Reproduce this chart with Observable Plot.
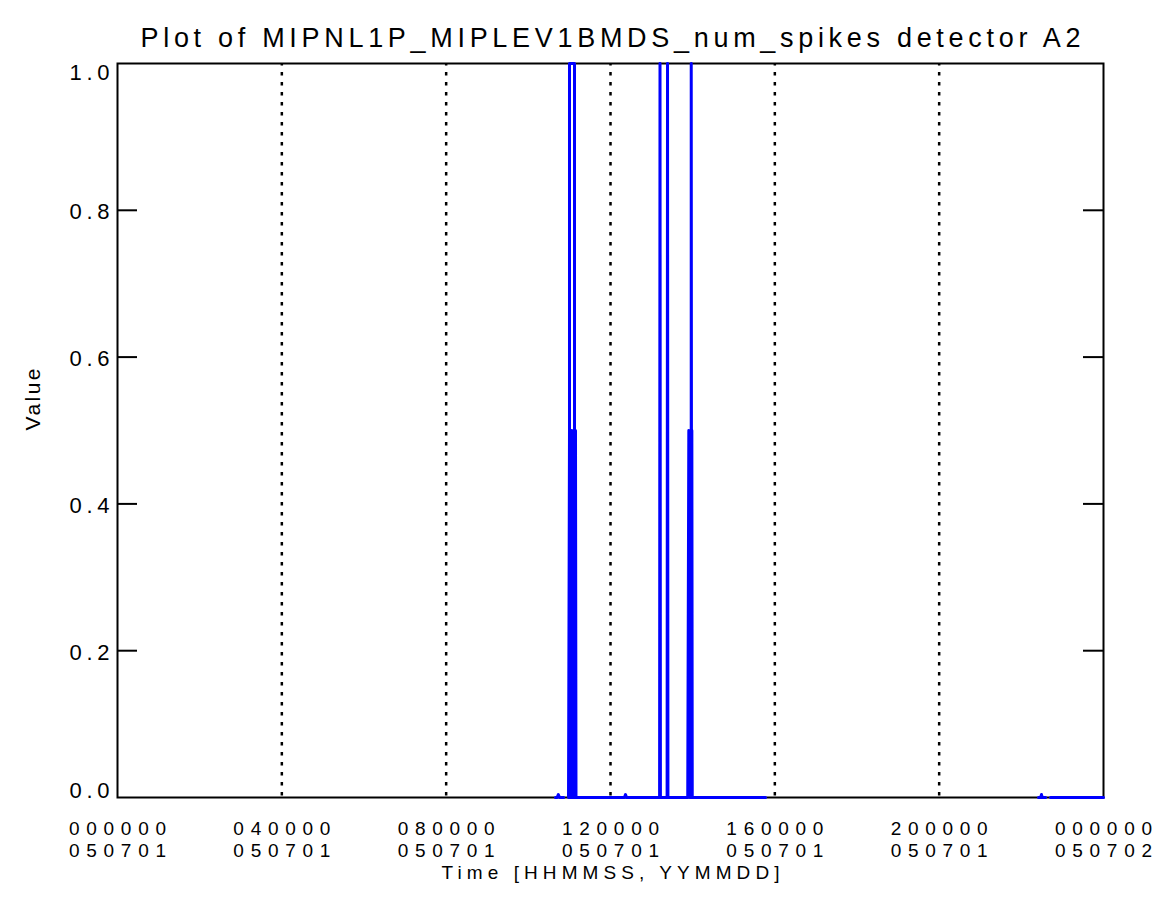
<!DOCTYPE html>
<html><head><meta charset="utf-8">
<script src="https://cdn.jsdelivr.net/npm/d3@7"></script>
<script src="https://cdn.jsdelivr.net/npm/@observablehq/plot@0.6"></script>
<style>
html,body{margin:0;padding:0;background:#fff;}
</style></head><body><div id="chart"></div>
<script>
const titleText = "Plot of MIPNL1P_MIPLEV1BMDS_num_spikes detector A2";
const xLabel = "Time [HHMMSS, YYMMDD]";
const yLabel = "Value";
const xTickHours = [0, 4, 8, 12, 16, 20, 24];
const xTickTime = ["000000", "040000", "080000", "120000", "160000", "200000", "000000"];
const xTickDate = ["050701", "050701", "050701", "050701", "050701", "050701", "050702"];
const gridHours = [4, 8, 12, 16, 20];
const yTicks = [0, 0.2, 0.4, 0.6, 0.8, 1.0];
const yInnerTicks = [0.2, 0.4, 0.6, 0.8];

// samples in drawing order (hours since 000000 050701, value); null = no data
const timeHours = [
  10.66, 10.70, 10.73, 10.76, 10.86, 10.90,
  10.978, 11.002, 11.027, 11.051, 11.075, 11.100, 11.124, 11.148, 11.160,
  11.002, 11.002, 11.124, 11.124, 11.160,
  12.34, 12.365, 12.39,
  13.195, 13.205, 13.215,
  13.378, 13.388, 13.398,
  13.88, 13.906, 13.93, 13.955, 13.965, 13.965, 13.975, 13.98, 13.99,
  15.773, 15.80,
  22.418, 22.47, 22.49, 22.51, 22.59, 22.65,
  22.71, 24.0
];
const values = [
  0, 0, 0.004, 0, 0, null,
  0, 0.5, 0, 0.5, 0, 0.5, 0, 0.5, 0,
  0, 1, 1, 0, 0,
  0, 0.004, 0,
  0, 1, 0,
  0, 1, 0,
  0, 0.5, 0, 0.5, 0, 1, 0, 0.5, 0,
  0, null,
  0, 0, 0.004, 0, 0, null,
  0, 0
];

const series = timeHours.map((t, i) => ({t, v: values[i]}));
const font = "'Liberation Sans', Arial, sans-serif";
const txt = {fill: "#000", lineAnchor: "middle", fontFamily: font};

const chart = Plot.plot({
  width: 1160,
  height: 922,
  marginTop: 63,
  marginBottom: 125,
  marginLeft: 117,
  marginRight: 57,
  style: {fontFamily: font, background: "#fff", color: "#000"},
  x: {domain: [0, 24], axis: null},
  y: {domain: [0, 1], axis: null},
  marks: [
    Plot.ruleX(gridHours, {x: d => d, stroke: "#000", strokeWidth: 2.5, strokeDasharray: "3.5,6.5", strokeDashoffset: 1}),
    Plot.ruleY(yInnerTicks, {y: d => d, stroke: "#000", strokeWidth: 2, insetRight: 966}),
    Plot.ruleY(yInnerTicks, {y: d => d, stroke: "#000", strokeWidth: 2, insetLeft: 966}),
    Plot.frame({stroke: "#000", strokeWidth: 2}),
    Plot.line(series, {x: "t", y: "v", stroke: "#0000ff", strokeWidth: 3, curve: "linear"}),
    Plot.text([titleText], {...txt, frameAnchor: "top", dy: -25, fontSize: 27}),
    Plot.text(xTickHours, {...txt, x: d => d, text: (d, i) => xTickTime[i], frameAnchor: "bottom", dy: 31, fontSize: 19}),
    Plot.text(xTickHours, {...txt, x: d => d, text: (d, i) => xTickDate[i], frameAnchor: "bottom", dy: 53, fontSize: 19}),
    Plot.text([xLabel], {...txt, frameAnchor: "bottom", dy: 75, fontSize: 19}),
    Plot.text([yLabel], {...txt, frameAnchor: "left", dx: -84, rotate: -90, fontSize: 21}),
    Plot.text(yInnerTicks, {...txt, y: d => d, text: d => d.toFixed(1), frameAnchor: "left", textAnchor: "end", dx: -8, dy: 2, fontSize: 22}),
    Plot.text([yTicks[yTicks.length - 1]], {...txt, y: d => d, text: d => d.toFixed(1), frameAnchor: "left", textAnchor: "end", dx: -8, dy: 9, fontSize: 22}),
    Plot.text([yTicks[0]], {...txt, y: d => d, text: d => d.toFixed(1), frameAnchor: "left", textAnchor: "end", dx: -8, dy: -7, fontSize: 22})
  ]
});
document.getElementById("chart").appendChild(chart);

// stretch the letter spacing of each text to the width it takes in the reference
d3.select(chart).selectAll("text").each(function () {
  const s = this.textContent;
  let len = null;
  if (s === titleText) len = 940;
  else if (s === xLabel) len = 338;
  else if (s === yLabel) len = 62;
  else if (/^\d{6}$/.test(s)) len = 97;
  else if (/^\d\.\d$/.test(s)) len = 40;
  if (len) d3.select(this).attr("textLength", len).attr("lengthAdjust", "spacing");
});
</script>
</body></html>
